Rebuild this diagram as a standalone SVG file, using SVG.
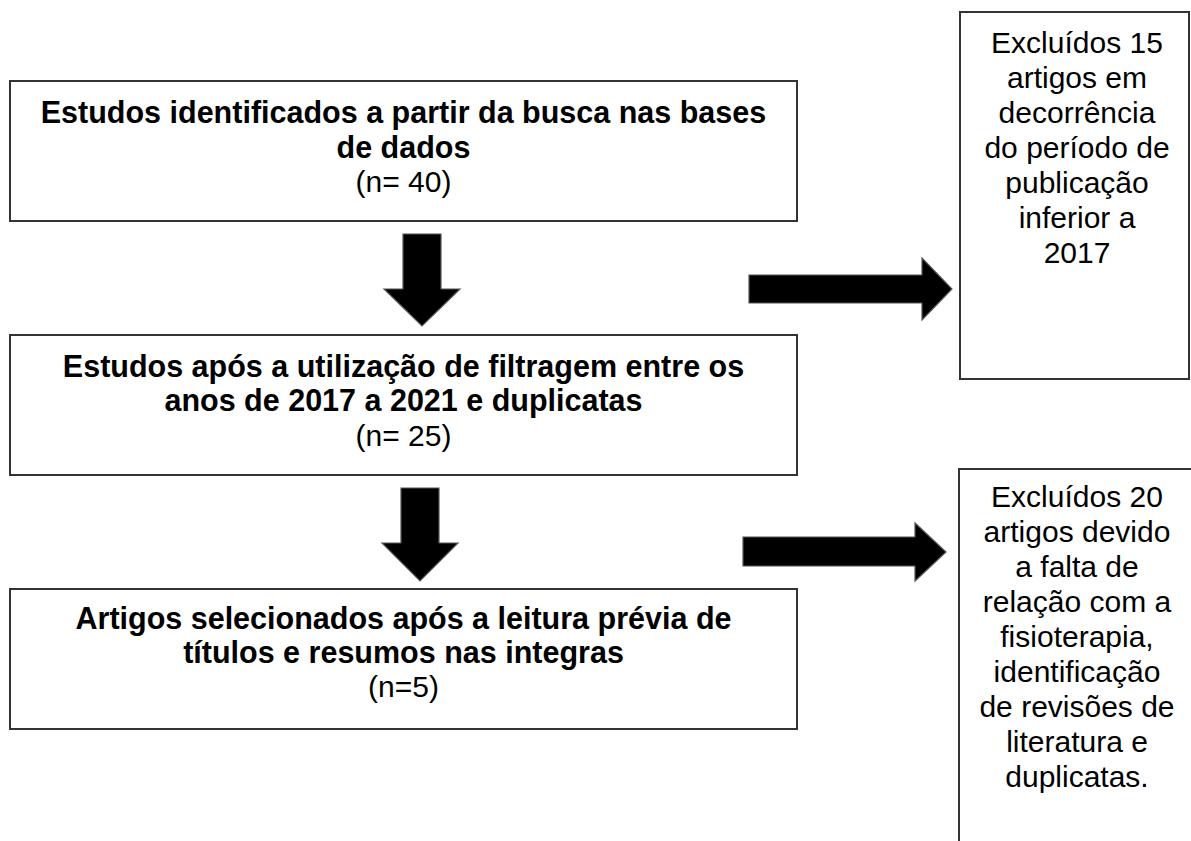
<svg xmlns="http://www.w3.org/2000/svg" width="1191" height="841" viewBox="0 0 1191 841">
<style>
.box{fill:#fff;stroke:#333;stroke-width:2}
.arr{fill:#000;stroke:#555;stroke-width:1.2;stroke-linejoin:miter}
.b{font-family:"Liberation Sans",Arial,sans-serif;font-size:30.5px;font-weight:bold;fill:#000;text-anchor:middle}
.r{font-family:"Liberation Sans",Arial,sans-serif;font-size:30px;fill:#000;text-anchor:middle}
</style>
<rect width="1191" height="841" fill="#fff"/>
<g id="connectors">
<polygon class="arr" points="403,234 441,234 441,289 460,289 422,326 384,289 403,289"/>
<polygon class="arr" points="401,488 439,488 439,543 458,543 420,581 382,543 401,543"/>
<polygon class="arr" points="749,275 922,275 922,258 952,289 922,320 922,303 749,303"/>
<polygon class="arr" points="743,537 915,537 915,523 946,552 915,581 915,566 743,566"/>
</g>
<g id="box1">
<rect class="box" x="10" y="81" width="787" height="140"/>
<text class="b" x="403.5" y="123">Estudos identificados a partir da busca nas bases</text>
<text class="b" x="403.5" y="158">de dados</text>
<text class="r" x="403.5" y="192">(n= 40)</text>
</g>
<g id="box2">
<rect class="box" x="10" y="335" width="787" height="140"/>
<text class="b" x="403.5" y="377">Estudos após a utilização de filtragem entre os</text>
<text class="b" x="403.5" y="411">anos de 2017 a 2021 e duplicatas</text>
<text class="r" x="403.5" y="446">(n= 25)</text>
</g>
<g id="box3">
<rect class="box" x="10" y="589" width="787" height="140"/>
<text class="b" x="403.5" y="629">Artigos selecionados após a leitura prévia de</text>
<text class="b" x="403.5" y="663">títulos e resumos nas integras</text>
<text class="r" x="403.5" y="697">(n=5)</text>
</g>
<g id="excl1">
<rect class="box" x="960" y="12" width="229" height="367"/>
<text class="r" x="1077" y="53">Excluídos 15</text>
<text class="r" x="1077" y="88">artigos em</text>
<text class="r" x="1077" y="123">decorrência</text>
<text class="r" x="1077" y="158">do período de</text>
<text class="r" x="1077" y="193">publicação</text>
<text class="r" x="1077" y="228">inferior a</text>
<text class="r" x="1077" y="263">2017</text>
</g>
<g id="excl2">
<rect class="box" x="959" y="469" width="250" height="420"/>
<text class="r" x="1077" y="507">Excluídos 20</text>
<text class="r" x="1077" y="542">artigos devido</text>
<text class="r" x="1077" y="577">a falta de</text>
<text class="r" x="1077" y="612">relação com a</text>
<text class="r" x="1077" y="647">fisioterapia,</text>
<text class="r" x="1077" y="682">identificação</text>
<text class="r" x="1077" y="717">de revisões de</text>
<text class="r" x="1077" y="752">literatura e</text>
<text class="r" x="1077" y="787">duplicatas.</text>
</g>
</svg>
